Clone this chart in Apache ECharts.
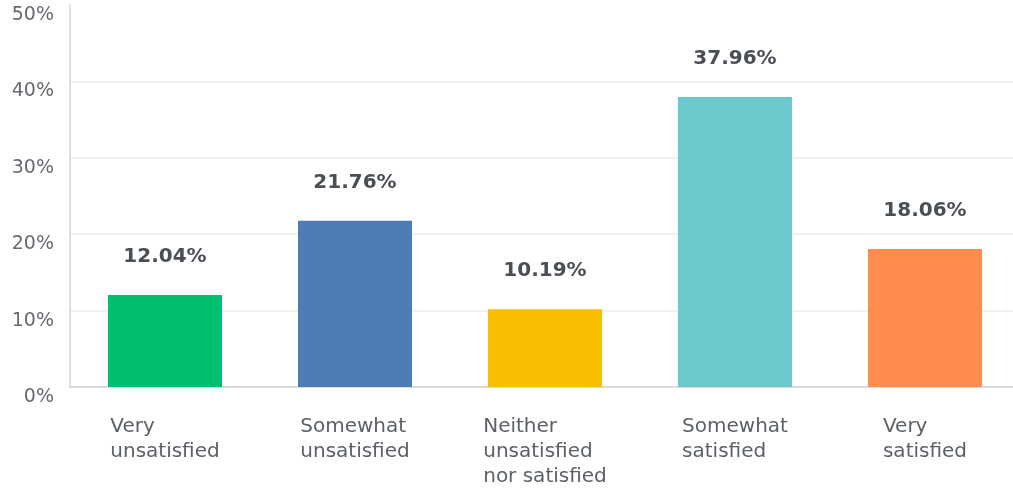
<!DOCTYPE html>
<html>
<head>
<meta charset="utf-8">
<script src="https://cdn.jsdelivr.net/npm/echarts@6/dist/echarts.min.js"></script>
<style>
  html, body { margin: 0; padding: 0; background: #ffffff; }
  #chart { width: 1013px; height: 491px; }
</style>
</head>
<body>
<div id="chart"></div>
<script>
// Satisfaction survey responses (percent of respondents)
const categories = [
  ['Very', 'unsatisfied'],
  ['Somewhat', 'unsatisfied'],
  ['Neither', 'unsatisfied', 'nor satisfied'],
  ['Somewhat', 'satisfied'],
  ['Very', 'satisfied']
];
const values = [12.04, 21.76, 10.19, 37.96, 18.06];
const barColors = ['#00bf6f', '#507cb6', '#f9be00', '#6bc8cd', '#ff8b4f'];
const yTicks = [0, 10, 20, 30, 40, 50];

const FONT = '"DejaVu Sans", sans-serif';

const chart = echarts.init(document.getElementById('chart'), null, { renderer: 'canvas' });

chart.setOption({
  animation: false,
  backgroundColor: '#ffffff',
  // plot area runs slightly past the right edge of the canvas
  grid: { left: 70, width: 950, top: 5, height: 382, containLabel: false, outerBoundsMode: 'none' },
  xAxis: {
    type: 'category',
    data: categories.map(lines => lines.join('\n')),
    axisLine: { show: true, lineStyle: { color: '#d3d3d3', width: 1.5 } },
    axisTick: { show: false },
    axisLabel: {
      interval: 0,
      margin: 27,
      align: 'center',
      formatter: function (v) {
        return v.split('\n').map(s => '{l|' + s + '}').join('\n');
      },
      rich: {
        l: {
          align: 'left',
          fontFamily: FONT,
          fontSize: 20,
          lineHeight: 25,
          color: '#5c6168'
        }
      }
    }
  },
  yAxis: {
    type: 'value',
    min: yTicks[0],
    max: yTicks[yTicks.length - 1],
    interval: 10,
    axisLine: { show: true, lineStyle: { color: '#d3d3d3', width: 1.5 } },
    axisTick: { show: false },
    splitLine: { show: true, showMaxLine: false, lineStyle: { color: '#ebebeb', width: 1.5 } },
    axisLabel: {
      margin: 16,
      verticalAlign: 'top',
      lineHeight: 20,
      fontFamily: FONT,
      fontSize: 19,
      color: '#666a70',
      formatter: '{value}%'
    }
  },
  series: [{
    type: 'bar',
    barWidth: 114,
    data: values.map((v, i) => ({ value: v, itemStyle: { color: barColors[i] } })),
    label: {
      show: true,
      position: 'top',
      distance: 28,
      fontFamily: FONT,
      fontSize: 20,
      fontWeight: 'bold',
      color: '#4a4f55',
      formatter: p => p.value.toFixed(2) + '%'
    }
  }]
});
</script>
</body>
</html>
